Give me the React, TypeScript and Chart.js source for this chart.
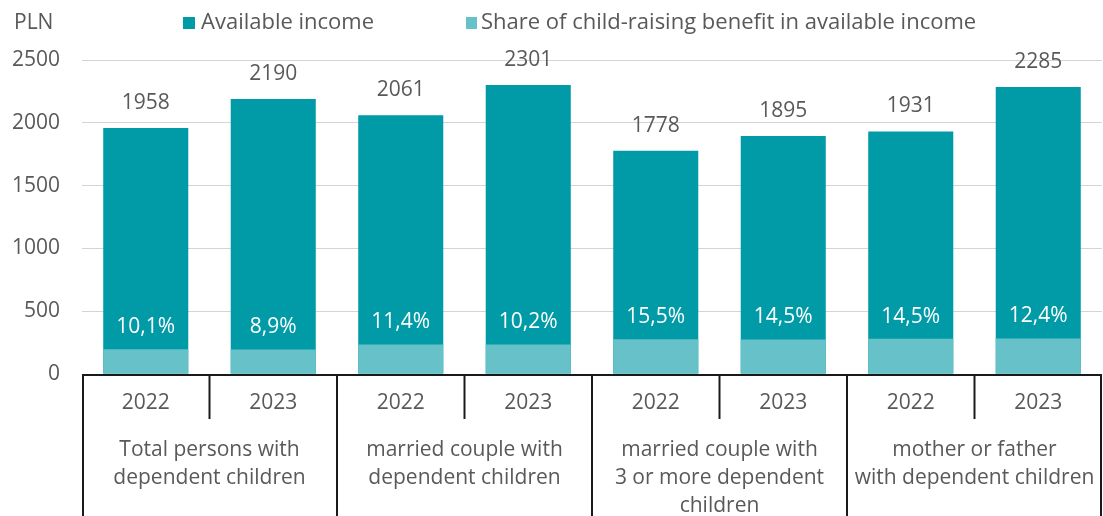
import React, { useEffect, useRef } from "react";
import { Chart, registerables } from "chart.js";

Chart.register(...registerables);

const years = ["2022", "2023", "2022", "2023", "2022", "2023", "2022", "2023"];
const groupLabels = [
  ["Total persons with", "dependent children"],
  ["married couple with", "dependent children"],
  ["married couple with", "3 or more dependent", "children"],
  ["mother or father", "with dependent children"],
];
const availableIncome = [1958, 2190, 2061, 2301, 1778, 1895, 1931, 2285];
const benefitAmount = [198, 195, 235, 235, 276, 275, 280, 283];
const benefitShare = ["10,1%", "8,9%", "11,4%", "10,2%", "15,5%", "14,5%", "14,5%", "12,4%"];
const yTicks = [0, 500, 1000, 1500, 2000, 2500];

const DARK = "#009ba6";
const LIGHT = "#66c1c9";
const TEXT = "#595959";
const FONT = "'Open Sans', sans-serif";
const FS = 21;

export default function App() {
  const ref = useRef<HTMLCanvasElement>(null);
  useEffect(() => {
    document.body.style.margin = "0";
    const canvas = ref.current!;
    const overlay = {
      id: "overlay",
      afterDatasetsDraw(chart: any) {
        const ctx = chart.ctx;
        const x = chart.scales.x;
        const y = chart.scales.y;
        ctx.save();
        ctx.font = `${FS}px ${FONT}`;
        ctx.textAlign = "center";
        ctx.textBaseline = "middle";
        availableIncome.forEach((v, i) => {
          const px = x.getPixelForValue(i);
          ctx.fillStyle = TEXT;
          ctx.fillText(String(v), px, y.getPixelForValue(v) - 25);
          ctx.fillStyle = "#ffffff";
          ctx.fillText(benefitShare[i], px, y.getPixelForValue(benefitAmount[i]) - 22);
        });
        ctx.restore();
      },
      afterDraw(chart: any) {
        const ctx = chart.ctx;
        const x = chart.scales.x;
        const area = chart.chartArea;
        const H = chart.height;
        ctx.save();
        ctx.strokeStyle = "#1a1a1a";
        ctx.lineWidth = 2;
        const axisY = area.bottom + 1;
        ctx.beginPath();
        ctx.moveTo(area.left, axisY);
        ctx.lineTo(area.right, axisY);
        ctx.stroke();
        const n = years.length;
        const slot = (area.right - area.left) / n;
        for (let k = 0; k <= n; k++) {
          const lx = area.left + k * slot + (k === 0 ? 1 : k === n ? -1 : 0);
          ctx.beginPath();
          ctx.moveTo(lx, axisY);
          ctx.lineTo(lx, k % 2 === 0 ? H : axisY + 44);
          ctx.stroke();
        }
        ctx.font = `${FS}px ${FONT}`;
        ctx.fillStyle = TEXT;
        ctx.textAlign = "center";
        ctx.textBaseline = "middle";
        years.forEach((yr, i) => {
          ctx.fillText(yr, x.getPixelForValue(i), 403);
        });
        groupLabels.forEach((lines, g) => {
          const cx = (x.getPixelForValue(2 * g) + x.getPixelForValue(2 * g + 1)) / 2;
          lines.forEach((ln, j) => {
            ctx.fillText(ln, cx, 450 + j * 28);
          });
        });
        ctx.textAlign = "left";
        ctx.fillText("PLN", 14, 23);
        ctx.font = `22px ${FONT}`;
        ctx.fillStyle = DARK;
        ctx.fillRect(183, 17, 12, 12);
        ctx.fillStyle = TEXT;
        ctx.fillText("Available income", 201, 23);
        ctx.fillStyle = LIGHT;
        ctx.fillRect(466, 17, 11, 12);
        ctx.fillStyle = TEXT;
        ctx.fillText("Share of child-raising benefit in available income", 481, 23);
        ctx.restore();
      },
    };
    const chart = new Chart(canvas, {
      type: "bar",
      data: {
        labels: years,
        datasets: [
          {
            label: "Share of child-raising benefit in available income",
            data: benefitAmount,
            backgroundColor: LIGHT,
            barPercentage: 0.667,
            categoryPercentage: 1,
          },
          {
            label: "Available income",
            data: availableIncome,
            backgroundColor: DARK,
            barPercentage: 0.667,
            categoryPercentage: 1,
          },
        ],
      },
      options: {
        responsive: false,
        animation: false,
        devicePixelRatio: 1,
        layout: { padding: { top: 60, right: 1, bottom: 142, left: 0 } },
        plugins: { legend: { display: false }, tooltip: { enabled: false } },
        scales: {
          x: { display: false, stacked: true },
          y: {
            stacked: false,
            min: 0,
            max: 2500,
            afterFit: (s: any) => {
              s.width = 82;
            },
            afterBuildTicks: (s: any) => {
              s.ticks = yTicks.map((v) => ({ value: v }));
            },
            border: { display: false },
            grid: { color: "#d4d4d4", lineWidth: 1, drawTicks: false },
            ticks: {
              padding: 22,
              color: TEXT,
              font: { family: FONT, size: FS },
              callback: (v: any) => String(v),
            },
          },
        },
      },
      plugins: [overlay],
    });
    return () => chart.destroy();
  }, []);
  return (
    <div style={{ width: 1103, height: 516 }}>
      <canvas ref={ref} width={1103} height={516} />
    </div>
  );
}
